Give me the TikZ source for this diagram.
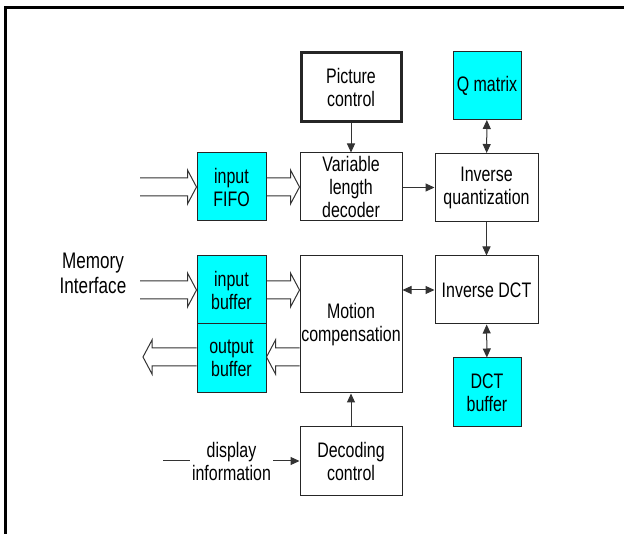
\documentclass[tikz,border=0pt]{standalone}
\usepackage{fontspec}
\setmainfont{Liberation Sans}
\newfontfamily\tallfont{Liberation Sans}[FakeStretch=0.76]
\usetikzlibrary{arrows.meta,calc}
\definecolor{aqua}{RGB}{0,255,255}
\tikzset{
  blk/.style={draw=black!85, line width=1pt, fill=white, inner sep=0pt, align=center,
    font=\tallfont\fontsize{21}{23}\selectfont},
  cy/.style={blk, fill=aqua},
  thin arrow/.style={draw=black!80, line width=1pt, -{Triangle[length=9pt,width=8pt]}},
  both arrow/.style={draw=black!80, line width=1pt, {Triangle[length=9pt,width=8pt]}-{Triangle[length=9pt,width=8pt]}},
  bigarrow/.style={draw=black!80, line width=1pt, line join=miter},
  lbl/.style={inner sep=2pt, align=center, font=\tallfont\fontsize{21}{23}\selectfont}
}
\newcommand{\bigarr}[3]{%
  \draw[bigarrow] let \p1=(#1), \p2=(#2) in
    (\x1,{\y1+9pt}) -- ({\x2-#3*9pt},{\y1+9pt}) -- ({\x2-#3*9pt},{\y1+17pt}) -- (\x2,\y1)
    -- ({\x2-#3*9pt},{\y1-17pt}) -- ({\x2-#3*9pt},{\y1-9pt}) -- (\x1,{\y1-9pt});}
\begin{document}
\begin{tikzpicture}[x=1pt,y=-1pt]
\useasboundingbox (0,0) rectangle (624,534);
\fill[white] (0,0) rectangle (624,534);
% outer frame
\draw[line width=3pt] (5.5,540) -- (5.5,7.5) -- (630,7.5);

\node[blk, line width=3pt, minimum width=100pt, minimum height=69pt] (pc) at (351,87.5) {Picture\\control};
\node[cy, minimum width=68pt, minimum height=68pt] (qm) at (487,85.5) {Q matrix};
\node[cy, minimum width=69pt, minimum height=68pt] (fifo) at (231.5,187) {input\\FIFO};
\node[blk, minimum width=102pt, minimum height=68pt] (vld) at (351,187) {Variable\\length\\decoder};
\node[blk, minimum width=103pt, minimum height=68pt] (iq) at (486.5,187.5) {Inverse\\quantization};
\node[cy, minimum width=69pt, minimum height=68pt] (ib) at (231.5,290) {input\\buffer};
\node[cy, minimum width=69pt, minimum height=69pt] (ob) at (231.5,358.5) {output\\buffer};
\node[blk, minimum width=102pt, minimum height=137pt] (mc) at (351,324.5) {Motion\\compensation};
\node[blk, minimum width=103pt, minimum height=68pt] (idct) at (486.5,290) {Inverse DCT};
\node[cy, minimum width=68pt, minimum height=69pt] (dctb) at (487,392.5) {DCT\\buffer};
\node[blk, minimum width=102pt, minimum height=68pt] (dc) at (351,461) {Decoding\\control};

\node[lbl, font=\tallfont\fontsize{22.5}{25}\selectfont] (mem) at (93,273.5) {Memory\\Interface};
\node[lbl] (disp) at (231.5,461) {display\\information};
\coordinate (dstart) at (163,461);

% thin connectors
\draw[thin arrow] (pc) -- (vld);
\draw[both arrow] (qm) -- (iq);
\draw[thin arrow] (vld.east |- iq.west) -- (iq.west);
\draw[thin arrow] (iq) -- (idct);
\draw[both arrow] (mc.east |- idct.west) -- (idct.west);
\draw[both arrow] (idct) -- (dctb);
\draw[thin arrow] (dc) -- (mc);
\draw[draw=black!80, line width=1pt] (dstart) -- (disp.west);
\draw[thin arrow] (disp.east) -- (dc.west);

% hollow bus arrows
\coordinate (fin) at (140,187);
\coordinate (bin) at (140,290);
\coordinate (bout) at (143,357);
\bigarr{fin}{fifo.west}{1}
\bigarr{fifo.east}{vld.west}{1}
\bigarr{bin}{ib.west}{1}
\bigarr{ib.east}{mc.west |- ib.east}{1}
\bigarr{mc.west |- bout}{ob.east |- bout}{-1}
\bigarr{ob.west |- bout}{bout}{-1}
\end{tikzpicture}
\end{document}
